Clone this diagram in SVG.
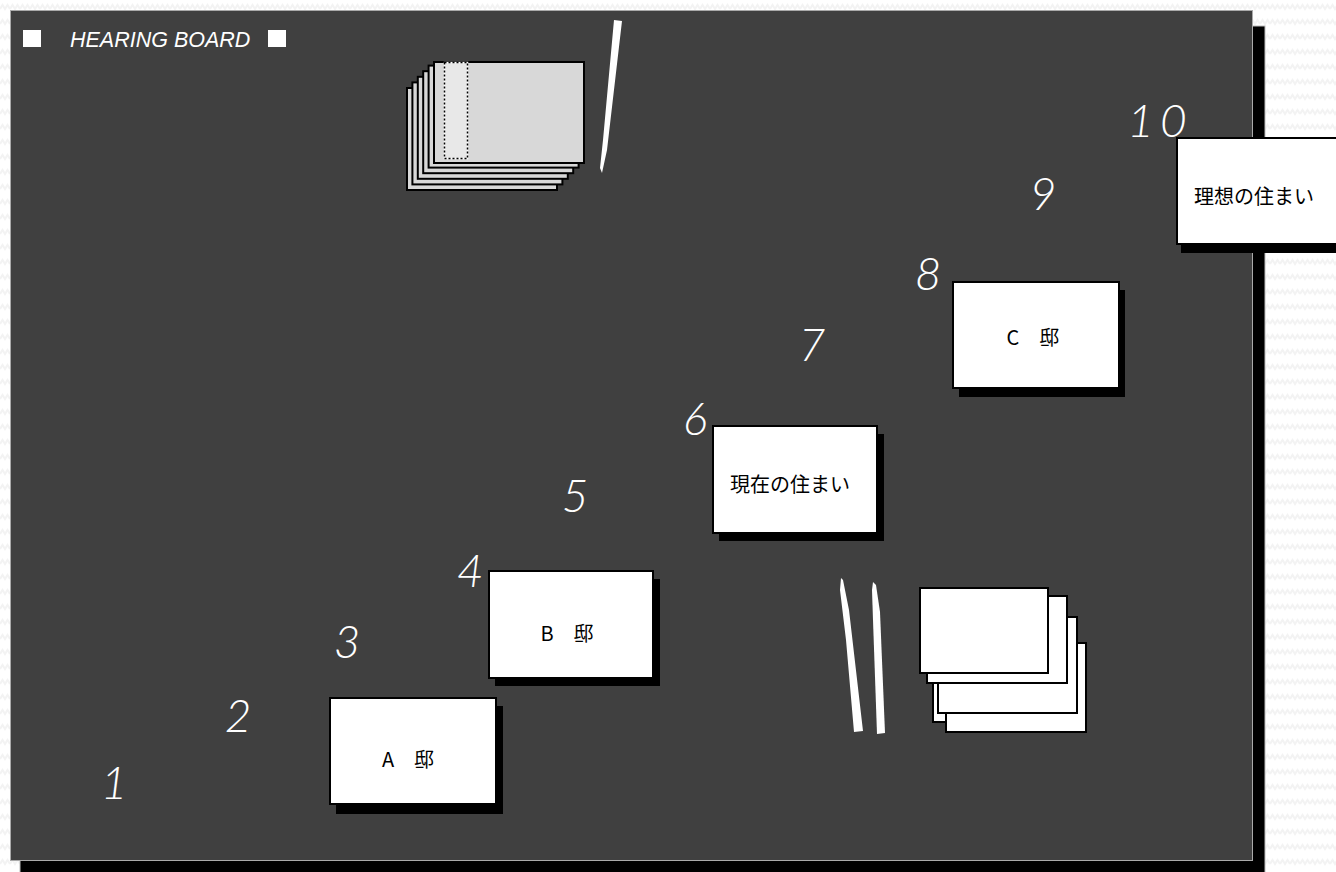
<svg xmlns="http://www.w3.org/2000/svg" width="1336" height="872" viewBox="0 0 1336 872">
<style>
.num{font-family:"Lato","Noto Sans",sans-serif;font-style:italic;font-weight:300;font-size:46px;fill:#ffffff;text-anchor:middle}
.card{fill:#ffffff;stroke:#000000;stroke-width:2}
.shadow{fill:#000000}
.lbl{font-family:"Noto Sans CJK JP",sans-serif;font-size:20px;fill:#000000;text-anchor:middle}
.gcard{fill:#d8d8d8;stroke:#000000;stroke-width:2}
.chalk{fill:#ffffff}
.title{font-family:"Liberation Sans",sans-serif;font-style:italic;font-size:21.5px;fill:#ffffff}
.sq{fill:#ffffff}
</style>
<defs>
<pattern id="zig" width="10" height="15" patternUnits="userSpaceOnUse">
<polyline points="0,9 2.5,5 5,9 7.5,5 10,9" fill="none" stroke="#f3f3f3" stroke-width="2"/>
</pattern>
</defs>
<rect x="0" y="0" width="1336" height="872" fill="#ffffff"/>
<rect x="0" y="0" width="1336" height="872" fill="url(#zig)"/>
<g id="board">
<rect x="20" y="26" width="1245" height="852" fill="#000000" stroke="#bbbbbb" stroke-width="1"/>
<rect x="10.5" y="10.5" width="1242" height="850" fill="#404040" stroke="#aaaaaa" stroke-width="1"/>
</g>
<g id="title">
<rect class="sq" x="23" y="30" width="18" height="17"/>
<text class="title" x="70" y="47">HEARING BOARD</text>
<rect class="sq" x="268" y="30" width="18" height="17"/>
</g>
<g id="card-stack-top">
<rect class="gcard" x="407" y="88" width="150" height="102"/>
<rect class="gcard" x="412.4" y="82.4" width="150" height="102"/>
<rect class="gcard" x="417.8" y="76.8" width="150" height="102"/>
<rect class="gcard" x="423.2" y="71.2" width="150" height="102"/>
<rect class="gcard" x="428.6" y="65.6" width="150" height="102"/>
<rect class="gcard" x="434" y="62" width="150" height="101"/>
<rect x="444.5" y="62.5" width="23" height="96" fill="#e8e8e8" stroke="#ffffff" stroke-width="1.5"/>
<rect x="444.5" y="62.5" width="23" height="96" fill="none" stroke="#000000" stroke-width="1.5" stroke-dasharray="2,2"/>
</g>
<g id="chalk-top">
<polygon class="chalk" points="614,20 622,21 607,150 602,173 600,168 603,140"/>
</g>
<g id="chalk-bottom">
<polygon class="chalk" points="841,578 843,580 849,610 863,731 854,732 846,640 840,590"/>
<polygon class="chalk" points="873,582 876,585 880,612 885,733 877,734 873,620 872,590"/>
</g>
<g id="card-stack-bottom">
<rect class="card" x="933" y="632" width="138" height="90"/>
<rect class="card" x="946" y="643" width="140" height="89"/>
<rect class="card" x="938" y="617" width="139" height="96"/>
<rect class="card" x="927" y="596" width="140" height="87"/>
<rect class="card" x="920" y="588" width="128" height="85"/>
</g>
<g id="numbers">
<text class="num" x="114" y="799">1</text>
<text class="num" x="238" y="732">2</text>
<text class="num" x="347" y="658">3</text>
<text class="num" x="470" y="587">4</text>
<text class="num" x="575" y="512">5</text>
<text class="num" x="695" y="435">6</text>
<text class="num" x="812" y="361">7</text>
<text class="num" x="928" y="290">8</text>
<text class="num" x="1043" y="210">9</text>
<text class="num" x="1160" y="137" letter-spacing="6">10</text>
</g>
<g id="node-a">
<rect class="shadow" x="336" y="706" width="167" height="108"/>
<rect class="card" x="330" y="698" width="166" height="106"/>
<text class="lbl" x="408" y="767">A　邸</text>
</g>
<g id="node-b">
<rect class="shadow" x="495" y="579" width="165" height="107"/>
<rect class="card" x="489" y="571" width="164" height="107"/>
<text class="lbl" x="567" y="641">B　邸</text>
</g>
<g id="node-current">
<rect class="shadow" x="719" y="434" width="165" height="107"/>
<rect class="card" x="713" y="426" width="164" height="107"/>
<text class="lbl" x="790" y="492">現在の住まい</text>
</g>
<g id="node-c">
<rect class="shadow" x="959" y="290" width="166" height="107"/>
<rect class="card" x="953" y="282" width="166" height="106"/>
<text class="lbl" x="1033" y="345">C　邸</text>
</g>
<g id="node-ideal">
<rect class="shadow" x="1181" y="146" width="166" height="107"/>
<rect class="card" x="1177" y="138" width="166" height="106"/>
<text class="lbl" x="1254" y="204">理想の住まい</text>
</g>
</svg>
